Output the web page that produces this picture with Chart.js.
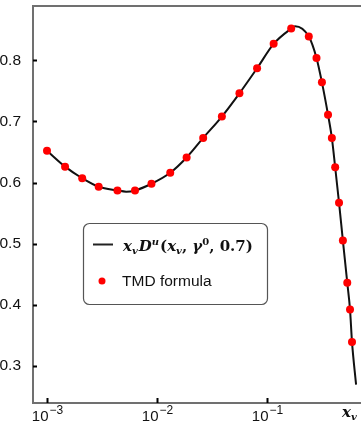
<!DOCTYPE html>
<html>
<head>
<meta charset="utf-8">
<script src="https://cdn.jsdelivr.net/npm/chart.js@4.4.0/dist/chart.umd.min.js"></script>
<style>
	html, body { margin: 0; padding: 0; background: #fff; overflow: hidden; }
	#wrap { position: relative; width: 361px; height: 422px; }
</style>
</head>
<body>
<div id="wrap"><canvas id="fragChart"></canvas></div>
<script>
	// curve x_v D^u(x_v, gamma^0, 0.7)
	var curveX = [0.001, 0.00146, 0.00209, 0.00295, 0.00437, 0.00525, 0.00631, 0.00891, 0.0132, 0.0186,
		0.0263, 0.0389, 0.0562, 0.0813, 0.115, 0.166, 0.180, 0.240, 0.282, 0.316, 0.359, 0.389, 0.417,
		0.452, 0.490, 0.537, 0.569, 0.593, 0.646];
	var curveY = [0.652, 0.626, 0.607, 0.593, 0.587, 0.585, 0.587, 0.598, 0.616, 0.641,
		0.673, 0.708, 0.746, 0.787, 0.827, 0.852, 0.856, 0.839, 0.804, 0.764, 0.711, 0.673, 0.625,
		0.567, 0.505, 0.436, 0.392, 0.339, 0.269];

	// TMD formula points
	var tmdX = [0.001, 0.00146, 0.00209, 0.00295, 0.00437, 0.00631, 0.00891, 0.0132, 0.0186,
		0.0263, 0.0389, 0.0562, 0.0813, 0.115, 0.166, 0.240, 0.282, 0.316, 0.359, 0.389, 0.417,
		0.452, 0.490, 0.537, 0.569, 0.593];
	var tmdY = [0.652, 0.626, 0.607, 0.593, 0.587, 0.587, 0.598, 0.616, 0.641,
		0.673, 0.708, 0.746, 0.787, 0.827, 0.852, 0.839, 0.804, 0.764, 0.711, 0.673, 0.625,
		0.567, 0.505, 0.436, 0.392, 0.339];

	var xTicks = [0.001, 0.01, 0.1];
	var xTickExp = ['\u22123', '\u22122', '\u22121'];
	var yTicks = [0.3, 0.4, 0.5, 0.6, 0.7, 0.8];

	function toPoints(xs, ys) {
		return xs.map(function (x, i) {
			return { x: x, y: ys[i] };
		});
	}

	// draws a run of text pieces, each with its own font and vertical shift
	function drawRuns(ctx, runs, x, y) {
		runs.forEach(function (r) {
			ctx.font = r.font;
			ctx.fillText(r.t, x, y + (r.dy || 0));
			x += ctx.measureText(r.t).width + (r.gap || 0);
		});
		return x;
	}

	var mathIt = 'bold italic 15px "DejaVu Serif"';
	var mathRm = 'bold 15px "DejaVu Serif"';
	var mathSm = 'bold italic 10px "DejaVu Serif"';
	var mathSmRm = 'bold 10px "DejaVu Serif"';

	var framePlugin = {
		id: 'frame',
		afterDraw: function (chart) {
			var ctx = chart.ctx;
			var a = chart.chartArea;
			var xs = chart.scales.x;
			var ys = chart.scales.y;

			ctx.save();
			// frame: top, left, bottom
			ctx.strokeStyle = '#707070';
			ctx.lineWidth = 2;
			ctx.beginPath();
			ctx.moveTo(a.right + 2, a.top);
			ctx.lineTo(a.left, a.top);
			ctx.lineTo(a.left, a.bottom);
			ctx.lineTo(a.right + 2, a.bottom);
			ctx.stroke();

			// inward ticks
			ctx.strokeStyle = '#000';
			ctx.lineWidth = 2;
			ctx.beginPath();
			yTicks.forEach(function (v) {
				var py = Math.round(ys.getPixelForValue(v)) + 0.5;
				ctx.moveTo(a.left, py);
				ctx.lineTo(a.left + 4, py);
			});
			xTicks.forEach(function (v) {
				var px = Math.round(xs.getPixelForValue(v)) + 0.5;
				ctx.moveTo(px, a.bottom);
				ctx.lineTo(px, a.bottom - 5);
			});
			ctx.stroke();

			// x tick labels 10^n
			ctx.fillStyle = '#111';
			ctx.textBaseline = 'alphabetic';
			ctx.textAlign = 'left';
			xTicks.forEach(function (v, i) {
				var px = xs.getPixelForValue(v);
				ctx.font = '15px "Liberation Sans"';
				var w1 = ctx.measureText('10').width;
				ctx.font = '12px "Liberation Sans"';
				var w2 = ctx.measureText(xTickExp[i]).width;
				var x0 = px - (w1 + w2) / 2;
				drawRuns(ctx, [
					{ t: '10', font: '15px "Liberation Sans"', gap: 1 },
					{ t: xTickExp[i], font: '12px "Liberation Sans"', dy: -7 }
				], x0, a.bottom + 18);
			});

			// axis label x_v
			drawRuns(ctx, [
				{ t: 'x', font: mathIt },
				{ t: 'v', font: mathSm, dy: 3 }
			], 342, 417);

			// legend
			var lx = 83, ly = 223, lw = 184, lh = 81;
			ctx.fillStyle = 'rgba(255,255,255,0.9)';
			ctx.strokeStyle = '#555';
			ctx.lineWidth = 1.2;
			ctx.beginPath();
			ctx.roundRect(lx + 0.5, ly + 0.5, lw, lh, 6);
			ctx.fill();
			ctx.stroke();

			ctx.strokeStyle = '#222';
			ctx.lineWidth = 2;
			ctx.beginPath();
			ctx.moveTo(93, 244.5);
			ctx.lineTo(113, 244.5);
			ctx.stroke();

			ctx.fillStyle = '#111';
			drawRuns(ctx, [
				{ t: 'x', font: mathIt },
				{ t: 'v', font: mathSm, dy: 3, gap: 1 },
				{ t: 'D', font: mathIt },
				{ t: 'u', font: mathSm, dy: -6, gap: 1 },
				{ t: '(', font: mathRm },
				{ t: 'x', font: mathIt },
				{ t: 'v', font: mathSm, dy: 3 },
				{ t: ', ', font: mathRm },
				{ t: '\u03b3', font: mathIt },
				{ t: '0', font: mathSmRm, dy: -6 },
				{ t: ', 0.7)', font: mathRm }
			], 123, 251);

			ctx.fillStyle = '#ff0000';
			ctx.beginPath();
			ctx.arc(102, 281, 3.5, 0, Math.PI * 2);
			ctx.fill();
			ctx.fillStyle = '#111';
			ctx.font = '15.5px "Liberation Sans"';
			ctx.fillText('TMD formula', 122, 286);

			ctx.restore();
		}
	};

	new Chart(document.getElementById('fragChart'), {
		type: 'line',
		data: {
			datasets: [
				{
					label: 'curve',
					data: toPoints(curveX, curveY),
					borderColor: '#111',
					borderWidth: 2,
					pointRadius: 0,
					cubicInterpolationMode: 'monotone',
					fill: false,
					order: 2
				},
				{
					label: 'TMD formula',
					data: toPoints(tmdX, tmdY),
					showLine: false,
					pointRadius: 4,
					pointBackgroundColor: '#ff0000',
					pointBorderColor: '#ff0000',
					pointBorderWidth: 0,
					order: 1
				}
			]
		},
		options: {
			responsive: true,
			maintainAspectRatio: false,
			animation: false,
			layout: {
				autoPadding: false,
				padding: { top: 6, right: 0, left: 0, bottom: 0 }
			},
			plugins: {
				legend: { display: false },
				tooltip: { enabled: false }
			},
			scales: {
				x: {
					type: 'logarithmic',
					min: 0.000746,
					max: 0.716,
					grid: { display: false },
					border: { display: false },
					ticks: { display: false },
					afterBuildTicks: function (scale) {
						scale.ticks = xTicks.map(function (v) { return { value: v }; });
					},
					afterFit: function (scale) {
						scale.height = 19;
						scale.paddingLeft = 0;
						scale.paddingRight = 0;
					}
				},
				y: {
					min: 0.239,
					max: 0.889,
					grid: { display: false },
					border: { display: false },
					afterBuildTicks: function (scale) {
						scale.ticks = yTicks.map(function (v) { return { value: v }; });
					},
					afterFit: function (scale) {
						scale.width = 33;
						scale.paddingTop = 0;
						scale.paddingBottom = 0;
					},
					ticks: {
						color: '#111',
						padding: 4,
						font: { family: '"Liberation Sans"', size: 15.5 },
						callback: function (value) {
							return value.toFixed(1);
						}
					}
				}
			}
		},
		plugins: [framePlugin]
	});
</script>
</body>
</html>
